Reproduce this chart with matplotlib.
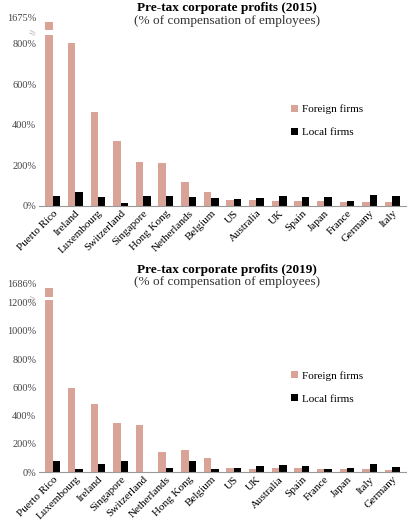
import matplotlib.pyplot as plt
import numpy as np

plt.rcParams['font.family'] = ['Liberation Serif', 'DejaVu Serif']

countries_2015 = ["Puerto Rico", "Ireland", "Luxembourg", "Switzerland", "Singapore", "Hong Kong",
                  "Netherlands", "Belgium", "US", "Australia", "UK", "Spain", "Japan", "France",
                  "Germany", "Italy"]
foreign_2015 = [1675, 802, 462, 318, 218, 213, 115, 67, 28, 28, 25, 25, 23, 20, 18, 17]
local_2015 = [48, 67, 42, 12, 48, 48, 42, 40, 33, 38, 48, 45, 43, 22, 52, 48]

countries_2019 = ["Puerto Rico", "Luxembourg", "Ireland", "Singapore", "Switzerland", "Netherlands",
                  "Hong Kong", "Belgium", "US", "UK", "Australia", "Spain", "France", "Japan",
                  "Italy", "Germany"]
foreign_2019 = [1686, 598, 482, 345, 336, 140, 153, 97, 30, 20, 25, 32, 22, 20, 18, 14]
local_2019 = [75, 18, 55, 75, 2, 30, 75, 22, 27, 40, 50, 45, 22, 28, 55, 38]

FOREIGN = "#d9a398"


def panel(fig, rect, title_y, title, cats, foreign, local, ticks, top_label, cap, gap, ymax):
    ax = fig.add_axes(rect)
    x = np.arange(len(cats))
    w = 0.33
    shown = [min(v, cap) for v in foreign]
    ax.bar(x - w / 2, shown, w, color=FOREIGN, label="Foreign firms")
    ax.bar(x + w / 2, local, w, color="black", label="Local firms")
    # axis break on the tallest bar
    ax.bar(x[0] - w / 2, gap[1] - gap[0], w * 1.1, bottom=gap[0], color="white", zorder=3)
    ax.text(-0.8, (gap[0] + gap[1]) / 2, "//", rotation=80, fontsize=6, ha="center", va="center",
            color="#666666")
    ax.set_ylim(0, ymax)
    ax.set_xlim(-0.6, len(cats) - 0.4)
    ax.set_yticks(list(ticks) + [ymax])
    ax.set_yticklabels([f"{t}%" for t in ticks] + [top_label], fontsize=7.5, color="#444444")
    ax.set_xticks(x)
    ax.set_xticklabels(cats, rotation=45, ha="right", rotation_mode="anchor", fontsize=8)
    for s in ["top", "right", "left"]:
        ax.spines[s].set_visible(False)
    ax.spines["bottom"].set_color("#999999")
    ax.tick_params(length=0, pad=2)
    fig.text(0.55, title_y, title, ha="center", va="center", fontsize=9.5, fontweight="bold")
    fig.text(0.55, title_y - 0.024, "(% of compensation of employees)", ha="center",
             va="center", fontsize=9.5, color="#333333")
    ax.legend(loc="center left", bbox_to_anchor=(0.66, 0.45), frameon=False, fontsize=8,
              handlelength=0.6, handleheight=0.6, labelspacing=1.2, handletextpad=0.4)
    return ax


fig = plt.figure(figsize=(4.12, 5.21), dpi=100)
panel(fig, [0.095, 0.605, 0.89, 0.362], 0.984, "Pre-tax corporate profits (2015)",
      countries_2015, foreign_2015, local_2015,
      range(0, 801, 200), "1675%", 905, (843, 868), 930)
panel(fig, [0.095, 0.094, 0.89, 0.361], 0.482, "Pre-tax corporate profits (2019)",
      countries_2019, foreign_2019, local_2019,
      range(0, 1201, 200), "1686%", 1302, (1220, 1239), 1333)
fig.savefig("out.png")
